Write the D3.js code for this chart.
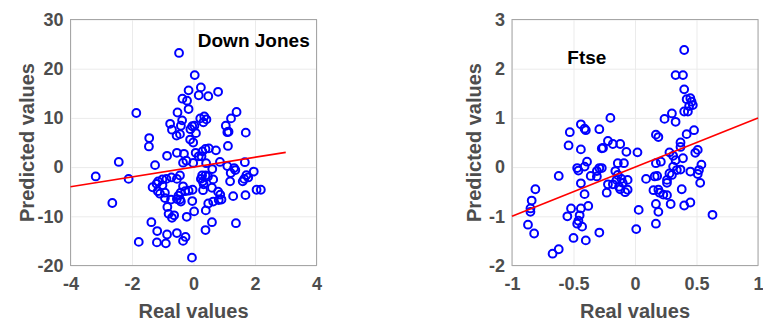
<!DOCTYPE html>
<html>
<head>
<meta charset="utf-8">
<script src="https://cdn.jsdelivr.net/npm/d3@7"></script>
<style>
  body { margin: 0; background: #fff; }
  text { font-family: "Liberation Sans", Arial, Helvetica, sans-serif; font-weight: bold; }
</style>
</head>
<body>
<div id="chart"></div>
<script>
  const svgWidth = 763;
  const svgHeight = 320;

  // Down Jones: real vs predicted
  const djReal = [-0.47,0.04,0.24,-0.16,0.8,0.17,0.48,-0.36,-0.21,-0.16,-0.52,-1.86,1.4,1.22,0.22,0.35,0.42,0.32,-0.37,-0.76,
    -0.41,-0.04,0.03,-0.1,-0.7,1.05,1.1,1.14,1.7,0.08,-0.55,-0.44,-1.44,-1.45,-0.11,-0.01,1.12,0.5,0.39,0.73,
    -0.54,-0.86,0.07,0.29,0.17,0.26,-0.31,-0.23,-0.34,-2.43,-1.25,0.41,-0.01,0.86,1.67,1.1,0.61,1.32,1.36,-3.18,
    -2.11,1.96,1.72,1.65,1.6,1.78,1.21,1.19,0.28,0.39,0.24,0.47,-0.44,-0.54,-0.72,-0.88,-1.01,-1.15,-1.2,-1.33,
    -1.01,-1.16,-1.09,-0.93,-0.93,0.64,0.6,0.31,-0.34,-0.27,-0.42,-0.16,-0.49,-0.44,-0.41,-0.54,-0.73,-2.64,-0.04,0.8,
    0.87,0.91,0.82,1.29,1.69,2.05,2.19,0.48,0.64,0.4,-0.85,-0.81,-0.7,-0.63,0.02,-0.22,-1.37,0.6,1.38,0.39,
    -1.18,-1.19,-0.9,-0.86,-0.54,-0.26,-0.34,-1.78,-0.05,0.3,0.33,-0.03];
  const djPred = [23.2,18.7,16.2,15.6,15.3,14.6,14.4,13.9,13.5,11.8,11.1,11.0,11.2,9.9,9.9,10.3,9.7,9.1,9.5,8.8,
    8.4,8.3,8.4,7.7,7.6,8.4,7.1,7.2,7.0,6.9,6.4,6.7,5.9,4.2,5.6,5.0,4.3,3.8,3.7,3.4,
    2.9,2.3,2.9,3.2,2.2,2.2,2.7,1.3,0.9,1.05,0.4,0.8,0.85,1.05,1.0,0.2,-0.4,-0.2,-0.6,-1.9,
    -2.4,-0.9,-1.65,-2.4,-2.9,-2.1,-1.2,-2.9,-1.7,-1.7,-2.4,-1.9,-1.7,-2.4,-2.1,-2.4,-2.5,-2.9,-3.4,-4.1,
    -3.7,-4.9,-5.4,-5.2,-6.3,-2.5,-4.2,-4.7,-3.9,-4.9,-5.2,-4.8,-5.8,-6.6,-7.0,-6.5,-6.6,-7.3,-6.9,-5.0,
    -5.6,-6.6,-6.7,-5.9,-5.7,-4.6,-4.6,-7.4,-7.0,-8.8,-8.1,-9.5,-10.3,-9.8,-9.0,-10.1,-11.2,-11.2,-11.4,-12.8,
    -13.0,-15.3,-15.5,-13.7,-13.4,-14.2,-15.0,-15.2,-18.4,-2.9,-3.5,-4.6];

  // Ftse: real vs predicted
  const ftseReal = [0.40,0.33,0.39,0.40,0.42,0.45,0.46,0.47,0.44,0.40,0.43,0.30,0.24,0.33,-0.2,-0.44,-0.41,-0.40,-0.29,-0.53,
    0.48,0.42,0.17,0.19,-0.54,-0.44,-0.22,-0.18,-0.26,-0.27,-0.12,-0.07,0.02,0.37,0.37,0.51,0.49,0.28,-0.39,0.39,
    0.31,0.33,0.17,0.21,-0.14,-0.09,0.54,-0.47,-0.46,-0.41,-0.29,-0.27,-0.31,-0.62,-0.36,-0.31,-0.16,-0.14,-0.11,-0.15,
    -0.10,0.28,0.30,0.31,0.34,0.37,0.45,0.52,0.51,0.53,0.16,0.18,0.26,0.26,0.26,-0.06,-0.06,0.09,-0.22,-0.23,
    -0.18,-0.08,-0.44,-0.41,-0.13,-0.12,0.15,0.19,0.2,0.23,0.38,-0.81,-0.84,-0.85,-0.85,0.29,0.17,0.40,0.45,0.19,
    0.03,-0.52,-0.55,-0.44,-0.45,-0.46,-0.43,-0.47,-0.38,0.63,0.17,-0.87,-0.82,0.01,-0.29,-0.50,-0.40,-0.67,-0.62];
  const ftsePred = [2.38,1.87,1.87,1.58,1.38,1.40,1.33,1.26,1.24,1.13,1.13,1.09,0.98,0.92,1.0,0.87,0.78,0.75,0.77,0.71,
    0.75,0.67,0.66,0.61,0.44,0.36,0.53,0.47,0.39,0.38,0.47,0.31,0.30,0.5,0.41,0.35,0.29,0.30,0.11,0.18,
    0.23,0.14,0.08,0.11,0.08,0.08,0.05,-0.02,-0.07,0.01,-0.02,-0.02,-0.08,-0.18,-0.18,-0.19,-0.08,-0.16,-0.24,-0.26,
    -0.32,-0.13,-0.16,0.01,-0.06,-0.05,-0.09,-0.06,-0.14,-0.32,-0.19,-0.18,-0.26,-0.32,-0.57,-0.26,-0.46,-0.24,-0.35,-0.52,
    -0.35,-0.51,-0.33,-0.55,-0.40,-0.45,-0.47,-0.46,-0.52,-0.56,-0.45,-0.45,-0.68,-0.84,-0.91,-0.75,-0.75,-0.78,-0.72,-0.91,
    -0.87,-0.84,-1.0,-0.84,-0.98,-1.09,-1.21,-1.15,-0.79,-0.97,-1.15,-1.17,-1.35,-1.26,-1.33,-1.44,-1.49,-1.76,-1.67];

  // fitted lines (start/end points)
  const djFitX = [-4, 3];
  const djFitY = [-4, 3];
  const ftseFitX = [-1, 1];
  const ftseFitY = [-1, 1];

  // tick labels
  const djXTicks = [-4, -2, 0, 2, 4];
  const djYTicks = [-20, -10, 0, 10, 20, 30];
  const ftseXTicks = [-1, -0.5, 0, 0.5, 1];
  const ftseYTicks = [-2, -1, 0, 1, 2, 3];

  const svg = d3.select("#chart")
    .append("svg")
    .attr("width", svgWidth)
    .attr("height", svgHeight);

  function drawPanel(opts) {
    const width = 246, height = 246;
    const g = svg.append("g")
      .attr("transform", `translate(${opts.left}, 19.5)`);

    const xScale = d3.scaleLinear().domain(opts.xDomain).range([0, width]);
    const yScale = d3.scaleLinear().domain(opts.yDomain).range([height, 0]);

    // grid + tick labels (plain hyphen minus like the original)
    const xAxis = g.append("g")
      .attr("transform", `translate(0, ${height})`)
      .call(d3.axisBottom(xScale).tickValues(opts.xTicks).tickSize(-height).tickPadding(12)
        .tickFormat(d => String(d)));
    const yAxis = g.append("g")
      .call(d3.axisLeft(yScale).tickValues(opts.yTicks).tickSize(-width).tickPadding(7)
        .tickFormat(d => String(d)));

    [xAxis, yAxis].forEach(a => {
      a.select(".domain").remove();
      a.selectAll(".tick line").attr("stroke", "#ebebeb").attr("stroke-width", 1);
      a.selectAll(".tick text")
        .attr("fill", "#4d4d4d")
        .style("font-size", "18px")
        .style("font-family", "'Liberation Sans', Arial, sans-serif")
        .style("font-weight", "bold");
    });

    // box
    g.append("rect")
      .attr("width", width)
      .attr("height", height)
      .attr("fill", "none")
      .attr("stroke", "#a6a6a6")
      .attr("stroke-width", 1);

    // points
    g.selectAll("circle")
      .data(opts.xs.map((x, i) => [x, opts.ys[i]]))
      .enter()
      .append("circle")
      .attr("cx", d => xScale(d[0]))
      .attr("cy", d => yScale(d[1]))
      .attr("r", 3.9)
      .attr("fill", "none")
      .attr("stroke", "#0000ff")
      .attr("stroke-width", 2);

    // fit line
    g.append("line")
      .attr("x1", xScale(opts.fitX[0]))
      .attr("y1", yScale(opts.fitY[0]))
      .attr("x2", xScale(opts.fitX[1]))
      .attr("y2", yScale(opts.fitY[1]))
      .attr("stroke", "#ff0000")
      .attr("stroke-width", 1.6);

    // title inside plot
    g.append("text")
      .attr("x", xScale(opts.titlePos[0]))
      .attr("y", yScale(opts.titlePos[1]))
      .attr("fill", "#000")
      .style("font-size", "19px")
      .text(opts.title);

    // axis labels
    g.append("text")
      .attr("x", width / 2)
      .attr("y", 298)
      .attr("text-anchor", "middle")
      .attr("fill", "#4d4d4d")
      .style("font-size", "20px")
      .text("Real values");

    g.append("text")
      .attr("transform", `translate(${opts.yLabelX}, ${height / 2}) rotate(-90)`)
      .attr("text-anchor", "middle")
      .attr("fill", "#4d4d4d")
      .style("font-size", "20px")
      .text("Predicted values");
  }

  drawPanel({
    left: 70.5, xDomain: [-4, 4], yDomain: [-20, 30],
    xTicks: djXTicks, yTicks: djYTicks,
    xs: djReal, ys: djPred, fitX: djFitX, fitY: djFitY,
    title: "Down Jones", titlePos: [0.14, 24.4], yLabelX: -37
  });

  drawPanel({
    left: 512, xDomain: [-1, 1], yDomain: [-2, 3],
    xTicks: ftseXTicks, yTicks: ftseYTicks,
    xs: ftseReal, ys: ftsePred, fitX: ftseFitX, fitY: ftseFitY,
    title: "Ftse", titlePos: [-0.55, 2.09], yLabelX: -31
  });
</script>
</body>
</html>
